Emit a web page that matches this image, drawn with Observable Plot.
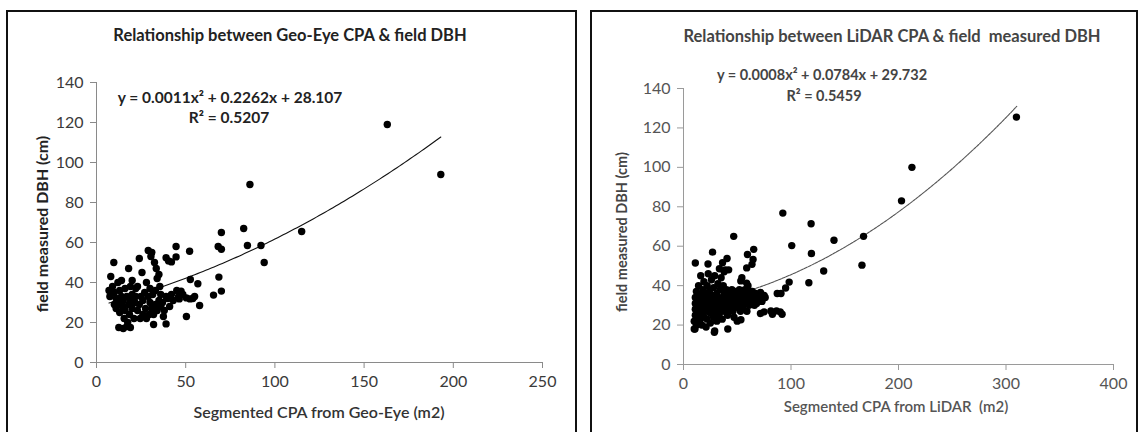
<!DOCTYPE html>
<html><head><meta charset="utf-8">
<script src="https://cdn.jsdelivr.net/npm/d3@7"></script>
<script src="https://cdn.jsdelivr.net/npm/@observablehq/plot@0.6"></script>
<style>
body{margin:0;background:#fff;}
#wrap{position:relative;width:1143px;height:432px;overflow:hidden;font-family:Lato,"Open Sans",sans-serif;background:#fff;}
.box{position:absolute;border:2px solid #111;border-bottom:none;box-sizing:border-box;pointer-events:none;z-index:5;}
.t{position:absolute;white-space:pre;transform:translate(-50%,-50%);font-weight:bold;z-index:4;}
.rot{transform:translate(-50%,-50%) rotate(-90deg);}
.pl{position:absolute;top:0;}
</style></head><body>
<div id="wrap">
  <div class="box" style="left:6px;top:10px;width:571px;height:430px"></div>
  <div class="box" style="left:590px;top:10px;width:548px;height:430px"></div>
  <div class="pl" id="left" style="left:0px"></div>
  <div class="pl" id="right" style="left:590px"></div>
</div>
<script>
// ---------------- data ----------------
const geoTitle = "Relationship between Geo-Eye CPA & field DBH";
const lidarTitle = "Relationship between LiDAR CPA & field  measured DBH";
const geoXLabel = "Segmented CPA from Geo-Eye (m2)";
const lidarXLabel = "Segmented CPA from LiDAR  (m2)";
const yLabel = "field measured DBH (cm)";
const geoEquation = "y = 0.0011x² + 0.2262x + 28.107";
const geoR2 = "R² = 0.5207";
const lidarEquation = "y = 0.0008x² + 0.0784x + 29.732";
const lidarR2 = "R² = 0.5459";

const yTicks = [0, 20, 40, 60, 80, 100, 120, 140];
const geoXTicks = [0, 50, 100, 150, 200, 250];
const lidarXTicks = [0, 100, 200, 300, 400];

// polynomial trendline coefficients [a, b, c] and x-extent of the trendline
const geoFit = [0.0011, 0.2262, 28.107];
const geoFitRange = [7, 193];
const lidarFit = [0.0008, 0.0784, 29.732];
const lidarFitRange = [10, 310];

// Geo-Eye CPA (m2) vs field DBH (cm)
const geoCPA = [163,193,86,115,82.5,70,84.6,92.2,94,68.2,70,68.6,70,65.6,52.2,44.6,44.6,39,40.4,42,50.4,57.8,56.8,52.6,55,54,52.4,50.4,48.4,47.4,46.4,39,32,
7,7.5,8,9,9.7,10,10,11,11,12,12,12.5,13,13,14,14,14.5,15,15,15.5,16,16,17,17,17.5,18,18,18.5,19,19,19,20,20,20,21,21.5,22,22,23,23,24,24,24.5,25,25.5,26,26,27,27.5,28,28,29,29,29.5,30,30,30.5,31,31,31.5,32,32.5,33,33,33.5,34,34,35,35,35.5,36,36,37,37.5,38,39,40,41,42,43,45,46];
const geoDBH = [119,94,89,65.5,67,65,58.5,58.5,50,58,56.6,42.7,35.7,33.7,55.6,58,52.8,52.4,50.8,50.3,23,28.5,39.4,41.5,33,32,31.8,32.3,34,35.7,31.8,19.3,19,
36,33,43,38,50,29,35,32,27,40,30,17.5,36,25,33,41,28,17,31,22,37,26,18,33,20,47,29,24,38,31,17.5,41,27,34,22,30,37,33,26,38,52,29,22,33,45,24,31,35,27,40,22,33,56,24,37,30,53,55,27,34,24,50,36,29,47,42,26,44,31,38,34,28,30,23,26,33,32,28,34,31,36,33];

// LiDAR CPA (m2) vs field DBH (cm)
const lidarCPA = [309.7,212.5,202.8,167.5,166,140,130.4,118.7,119,116.6,100.7,92.4,98.3,95,87.2,90.7,86.5,90,91.7,81.3,82.7,71.6,75,75,71.6,46.7,27,22.8,11,40.5,36.3,63.7,64.7,58.8,59.5,65.3,54.3,53.3,58.7,41.2,28.7,10.7,53.4,33.4,37.8,60,
10,10,11,11,11,11,12,12,13,13,14,14,14,15,15,16,16,16,17,17,18,18,19,19,19,20,20,21,21,22,22,22,23,23,24,24,25,25,26,26,27,27,28,28,28,29,29,30,30,31,31,32,32,33,33,34,34,35,35,36,36,37,37,38,38,39,39,40,40,41,41,42,42,43,44,44,45,45,46,47,47,48,48,49,50,50,51,52,52,53,54,55,55,56,57,58,58,59,60,60,61,62,63,64,65,66,67,68,70,72,73,76];
const lidarDBH = [125.5,100,83,65,50.4,63,47.4,71.4,56.3,41.5,60.3,76.8,41.8,38.8,36,36,27.2,26.7,25.5,27.2,25.5,25.9,26.7,35,36.5,65,57,51,51.5,53.8,51.6,50.8,53.3,49,55.8,58.4,44,42.4,41.3,18,16.3,18,22.7,48.6,47,40,
18,22,25,28,31,34,37,20,27,30,33,24,40,22,29,35,26,45,31,20,38,28,24,33,42,30,36,27,19,34,40,23,29,46,32,37,26,21,30,43,35,28,24,39,32,17,45,30,27,36,22,33,41,29,25,38,31,27,44,34,23,30,40,36,27,33,48,29,38,25,35,31,48,28,36,33,30,38,27,34,24,31,37,29,35,22,33,30,38,27,36,32,29,34,38,31,36,27,33,38,30,35,32,37,34,30,36,31,33,36,32,34];

// ---------------- drawing ----------------
function trend(fit, range) {
  const [a, b, c] = fit;
  return d3.range(range[0], range[1] + 0.001, (range[1] - range[0]) / 120)
    .map(x => ({x, y: a * x * x + b * x + c}));
}

function panel({xs, ys, fit, fitRange, xTicks, xMax, width, marginLeft, marginRight, marginTop, marginBottom, curveStroke, dash, axisStroke, textFill}) {
  const pts = xs.map((x, i) => ({x, y: ys[i]}));
  return Plot.plot({
    width, height: 432, marginLeft, marginRight, marginTop, marginBottom,
    style: {background: "transparent", fontFamily: "Lato, 'Open Sans', sans-serif", fontSize: "16px"},
    x: {domain: [0, xMax], axis: null},
    y: {domain: [0, 140], axis: null},
    marks: [
      Plot.ruleX([0], {stroke: axisStroke}),
      Plot.ruleY([0], {stroke: axisStroke}),
      Plot.axisY({ticks: yTicks, tickSize: 6, tickPadding: 7, stroke: axisStroke, fill: textFill, fontSize: 16, label: null, tickFormat: d => String(d)}),
      Plot.axisX({ticks: xTicks, tickSize: 6, tickPadding: 7, stroke: axisStroke, fill: textFill, fontSize: 16, label: null, tickFormat: d => String(d)}),
      Plot.line(trend(fit, fitRange), {x: "x", y: "y", stroke: curveStroke, strokeWidth: 1.1, strokeDasharray: dash}),
      Plot.dot(pts, {x: "x", y: "y", r: 3.7, fill: "#000", stroke: null})
    ]
  });
}

document.getElementById("left").append(panel({
  xs: geoCPA, ys: geoDBH, fit: geoFit, fitRange: geoFitRange, xTicks: geoXTicks, xMax: 250,
  width: 577, marginLeft: 96, marginRight: 35, marginTop: 82, marginBottom: 70,
  curveStroke: "#111", dash: null, axisStroke: "#8a8a8a", textFill: "#3a3a3a"
}));
document.getElementById("right").append(panel({
  xs: lidarCPA, ys: lidarDBH, fit: lidarFit, fitRange: lidarFitRange, xTicks: lidarXTicks, xMax: 400,
  width: 553, marginLeft: 93, marginRight: 30, marginTop: 88, marginBottom: 68,
  curveStroke: "#555", dash: "3,1", axisStroke: "#9a9a9a", textFill: "#555"
}));

// text labels
const wrap = document.getElementById("wrap");
function label(txt, x, y, size, color, extraClass, weight) {
  const d = document.createElement("div");
  d.className = "t" + (extraClass ? " " + extraClass : "");
  d.textContent = txt;
  d.style.left = x + "px"; d.style.top = y + "px";
  d.style.fontSize = size + "px"; d.style.color = color;
  if (weight) d.style.fontWeight = weight;
  wrap.append(d);
}
label(geoTitle, 290, 35, 16.5, "#222");
label(geoEquation, 230, 97, 15.5, "#222");
label(geoR2, 229, 117, 15.5, "#222");
label(yLabel, 41, 224, 16, "#222", "rot");
label(geoXLabel, 319, 411, 16, "#333", null, "600");

label(lidarTitle, 892, 36, 16.5, "#444");
label(lidarEquation, 822, 74, 14.5, "#444");
label(lidarR2, 824, 95, 14.5, "#444");
label(yLabel, 621, 232, 14.5, "#444", "rot");
label(lidarXLabel, 896, 406, 15, "#555", null, "600");
</script>
</body></html>
